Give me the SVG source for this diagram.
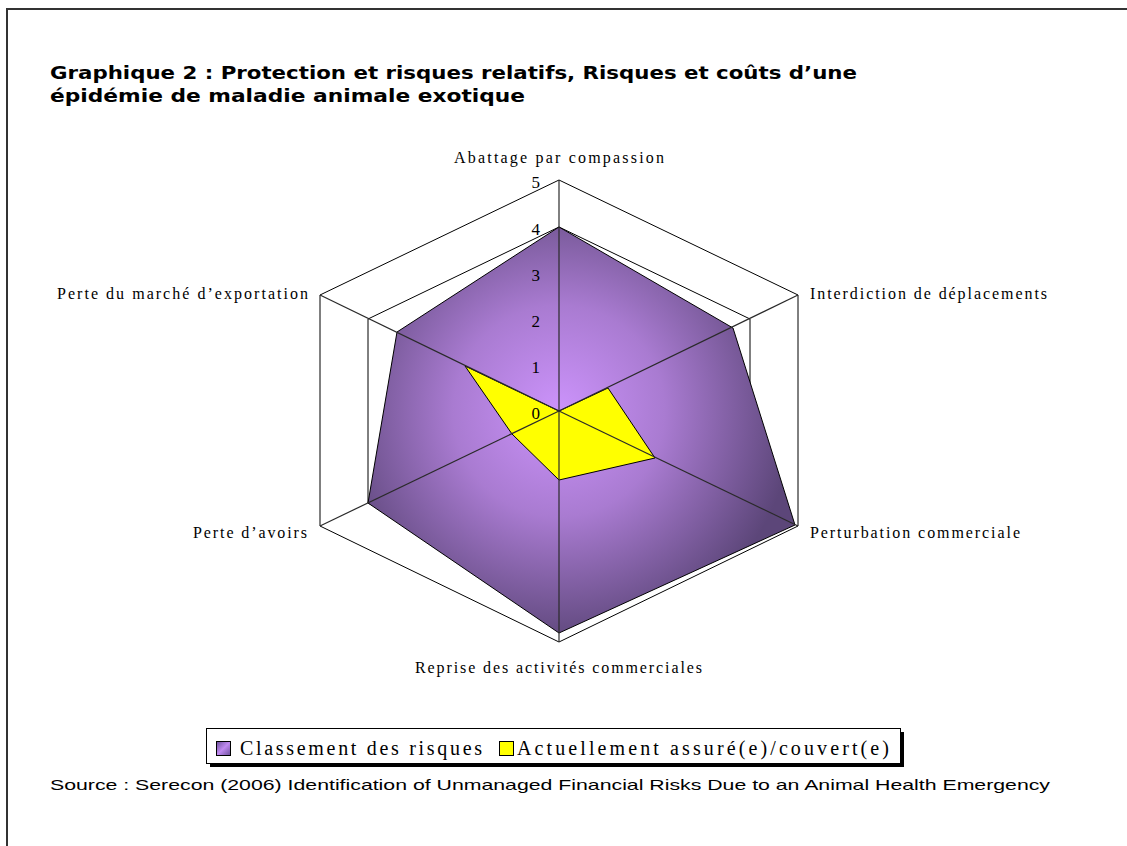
<svg xmlns="http://www.w3.org/2000/svg" width="1127" height="846" viewBox="0 0 1127 846">
<style>
.title{font-family:"DejaVu Sans","Verdana",sans-serif;font-weight:bold;font-size:17px;fill:#000}
.lbl{font-family:"Liberation Serif","Times New Roman",serif;font-size:16px;fill:#000}
.num{font-family:"Liberation Serif","Times New Roman",serif;font-size:17px;fill:#000;text-anchor:end}
.leg{font-family:"Liberation Serif","Times New Roman",serif;font-size:20px;fill:#000}
.src{font-family:"Liberation Sans",Arial,sans-serif;font-size:15px;fill:#000}
.grid{fill:none;stroke:#000;stroke-width:1}
.axis{stroke:#2a2a2a;stroke-width:1.2}
</style>
<defs>
<radialGradient id="pg" gradientUnits="userSpaceOnUse" cx="559" cy="411" r="235">
<stop offset="0" stop-color="#cc93fb"/>
<stop offset="0.45" stop-color="#a97bd1"/>
<stop offset="1" stop-color="#5c4679"/>
</radialGradient>
<linearGradient id="lg" x1="0" y1="0" x2="1" y2="1">
<stop offset="0" stop-color="#6a4f9a"/>
<stop offset="0.5" stop-color="#c08af0"/>
<stop offset="1" stop-color="#6a4f9a"/>
</linearGradient>
</defs>
<rect width="1127" height="846" fill="#fff"/>
<path d="M7,846 V9 H1127" fill="none" stroke="#333" stroke-width="2"/>
<g id="title">
<text class="title" x="50" y="79" textLength="807" lengthAdjust="spacingAndGlyphs">Graphique 2 : Protection et risques relatifs, Risques et coûts d’une</text>
<text class="title" x="50" y="102" textLength="475" lengthAdjust="spacingAndGlyphs">épidémie de maladie animale exotique</text>
</g>
<g id="grid">
<polygon class="grid" points="559,180 798,295 798,526 559,642 320,526 320,295"/>
<polygon class="grid" points="559,227 750,319 750,503 559,596 368,503 368,319"/>
</g>
<g id="series-classement">
<polygon points="559,227 733,328 795,525 559,633 368,503 397,332" fill="url(#pg)" stroke="#000" stroke-width="1"/>
</g>
<g id="series-assure">
<polygon points="559,411 608,388 655,458 559,480 512,434 465,366" fill="#ffff00" stroke="#000" stroke-width="1"/>
</g>
<g id="connectors">
<line class="axis" x1="559" y1="411" x2="559" y2="180"/>
<line class="axis" x1="559" y1="411" x2="798" y2="295"/>
<line class="axis" x1="559" y1="411" x2="798" y2="526"/>
<line class="axis" x1="559" y1="411" x2="559" y2="642"/>
<line class="axis" x1="559" y1="411" x2="320" y2="526"/>
<line class="axis" x1="559" y1="411" x2="320" y2="295"/>
</g>
<g id="scale">
<text class="num" x="540" y="188">5</text>
<text class="num" x="540" y="235">4</text>
<text class="num" x="540" y="281">3</text>
<text class="num" x="540" y="327">2</text>
<text class="num" x="540" y="373">1</text>
<text class="num" x="540" y="419">0</text>
</g>
<g id="axis-labels">
<text class="lbl" x="454" y="163" textLength="210" lengthAdjust="spacing">Abattage par compassion</text>
<text class="lbl" x="810" y="299" textLength="237" lengthAdjust="spacing">Interdiction de déplacements</text>
<text class="lbl" x="810" y="538" textLength="210" lengthAdjust="spacing">Perturbation commerciale</text>
<text class="lbl" x="415" y="673" textLength="287" lengthAdjust="spacing">Reprise des activités commerciales</text>
<text class="lbl" x="193" y="538" textLength="114" lengthAdjust="spacing">Perte d’avoirs</text>
<text class="lbl" x="57" y="299" textLength="251" lengthAdjust="spacing">Perte du marché d’exportation</text>
</g>
<g id="legend">
<rect x="210" y="732" width="694" height="35" fill="#000"/>
<rect x="206.5" y="728.5" width="694" height="35" fill="#fff" stroke="#000" stroke-width="1"/>
<rect x="216.5" y="741.5" width="14" height="14" fill="url(#lg)" stroke="#000" stroke-width="1"/>
<text class="leg" x="240" y="755" textLength="242" lengthAdjust="spacing">Classement des risques</text>
<rect x="499.5" y="741.5" width="14" height="14" fill="#ffff00" stroke="#000" stroke-width="1"/>
<text class="leg" x="517" y="755" textLength="372" lengthAdjust="spacing">Actuellement assuré(e)/couvert(e)</text>
</g>
<g id="source">
<text class="src" x="50" y="790" textLength="1000" lengthAdjust="spacingAndGlyphs">Source : Serecon (2006) Identification of Unmanaged Financial Risks Due to an Animal Health Emergency</text>
</g>
</svg>
